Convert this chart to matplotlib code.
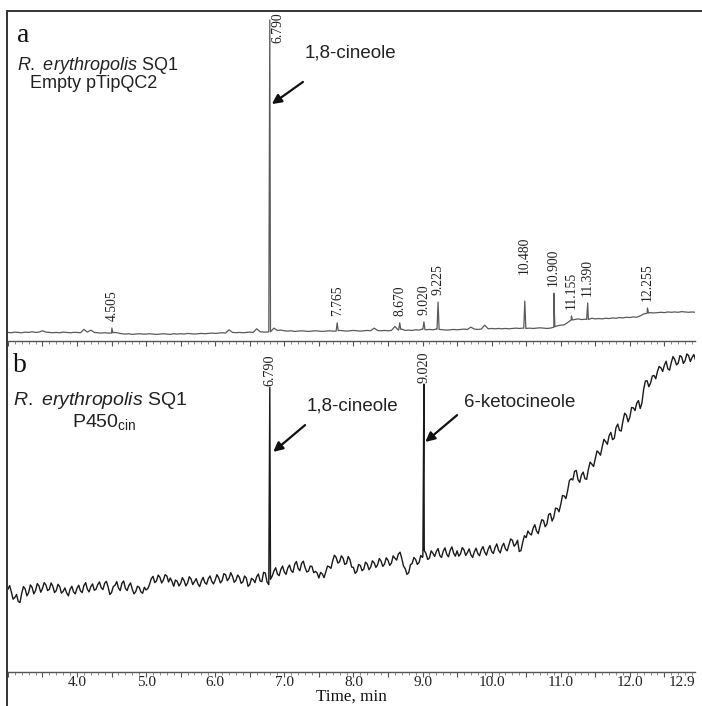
import numpy as np
import matplotlib
matplotlib.use("Agg")
import matplotlib.pyplot as plt
from matplotlib.patches import Rectangle
from matplotlib.ticker import MultipleLocator

plt.rcParams["mathtext.fontset"] = "custom"
plt.rcParams["mathtext.rm"] = "Liberation Sans"
plt.rcParams["mathtext.it"] = "Liberation Sans:italic"

# sampled traces, one point every 0.05 min from 3.00 to 12.95
t_grid = np.round(np.arange(3.0, 12.96, 0.05), 2)

top_trace = [
    2.6, 2.5, 2.7, 2.6, 2.5, 2.7, 2.6, 2.8, 2.6, 2.7,
    3.1, 2.7, 2.6, 2.5, 2.6, 2.5, 2.7, 2.6, 2.5, 2.6,
    2.6, 2.5, 3.5, 2.7, 3.3, 2.6, 2.5, 2.4, 2.5, 2.4,
    2.4, 2.6, 2.4, 2.2, 2.1, 2.2, 2.0, 2.1, 2.2, 2.1,
    2.1, 2.2, 2.1, 2.0, 2.1, 2.2, 2.1, 2.0, 2.2, 2.1,
    2.2, 2.1, 2.3, 2.2, 2.1, 2.2, 2.3, 2.2, 2.3, 2.4,
    2.3, 2.4, 2.5, 2.4, 3.4, 2.6, 2.5, 2.6, 2.5, 2.6,
    2.7, 2.6, 3.7, 2.8, 2.7, 2.7, 2.8, 3.9, 3.2, 3.3,
    3.1, 3.0, 3.1, 2.9, 3.0, 3.1, 3.0, 2.9, 3.0, 3.1,
    3.0, 2.9, 3.0, 3.1, 3.0, 3.0, 3.2, 3.1, 3.0, 3.1,
    3.2, 3.1, 3.0, 3.1, 3.2, 3.1, 3.9, 3.2, 3.1, 3.2,
    3.1, 3.2, 4.4, 3.3, 3.6, 3.2, 3.3, 3.2, 3.4, 3.3,
    3.6, 3.4, 3.5, 3.4, 3.6, 3.5, 3.4, 3.3, 3.4, 3.5,
    3.4, 3.5, 3.6, 3.5, 4.2, 3.6, 3.5, 3.6, 4.8, 3.7,
    3.8, 3.7, 3.8, 3.7, 3.8, 3.7, 3.8, 3.9, 3.8, 3.9,
    3.8, 3.9, 3.8, 3.9, 4.0, 3.9, 3.8, 3.9, 4.2, 4.6,
    4.8, 4.9, 5.6, 6.3, 6.5, 6.7, 6.5, 6.6, 6.5, 6.9,
    6.7, 6.8, 6.7, 6.9, 6.8, 7.0, 6.9, 7.1, 7.0, 7.2,
    7.1, 7.3, 7.2, 7.6, 8.2, 8.4, 8.6, 8.5, 8.6, 8.7,
    8.6, 8.8, 8.7, 8.8, 8.7, 8.9, 8.8, 8.7, 8.8, 8.7,
]

bottom_trace = [
    25.0, 24.2, 22.5, 21.3, 23.8, 25.1, 24.0, 25.6, 24.6, 26.0,
    25.2, 26.3, 25.0, 25.9, 24.6, 25.8, 24.4, 23.9, 25.0, 24.2,
    25.3, 24.5, 26.1, 25.0, 25.8, 24.7, 26.4, 25.5, 26.8, 25.7,
    24.0, 26.2, 25.4, 26.8, 25.3, 26.1, 25.0, 24.3, 25.6, 23.8,
    24.8, 26.5, 28.9, 27.5, 28.6, 27.8, 29.0, 28.4, 25.9, 27.4,
    26.8, 27.6, 26.9, 28.1, 27.3, 26.6, 27.5, 27.0, 28.2, 27.4,
    27.8, 28.5, 27.6, 29.4, 28.3, 28.9, 27.7, 28.6, 27.2, 28.4,
    26.4, 27.9, 28.8, 27.5, 30.1, 27.2, 28.0, 30.5, 29.6, 31.0,
    30.2, 31.4, 30.6, 32.5, 31.3, 32.8, 31.6, 30.5, 31.9, 30.4,
    28.4, 29.6, 30.2, 31.8, 33.6, 34.6, 33.3, 34.4, 32.8, 33.9,
    31.6, 30.4, 32.2, 31.1, 32.6, 31.7, 33.0, 32.4, 33.5, 32.6,
    33.8, 32.9, 34.4, 35.6, 34.3, 31.2, 30.0, 32.8, 34.0, 33.1,
    34.6, 35.8, 34.4, 35.9, 36.4, 35.2, 36.5, 35.6, 36.8, 35.9,
    36.6, 35.7, 36.9, 36.1, 35.4, 36.3, 35.8, 36.9, 36.2, 37.1,
    36.4, 37.6, 36.8, 37.9, 37.2, 38.4, 39.8, 38.6, 36.4, 39.2,
    40.6, 41.8, 43.4, 42.6, 44.1, 45.8, 44.7, 47.9, 46.8, 49.4,
    50.6, 53.2, 54.8, 58.4, 60.6, 58.1, 59.5, 58.4, 61.2, 62.8,
    64.5, 66.3, 68.0, 69.6, 71.4, 70.2, 73.8, 73.0, 75.8, 77.6,
    77.0, 79.8, 81.2, 79.6, 85.4, 88.0, 87.3, 89.6, 90.8, 91.9,
    92.7, 91.6, 93.5, 94.4, 93.3, 95.2, 94.1, 95.6, 95.0, 94.3,
]

# bottom trace readings half way between the samples above (3.025 ... 12.925 min)
bottom_trace_mid = [
    26.1, 22.0, 23.4, 21.0, 25.8, 23.0, 26.3, 23.6, 26.7, 24.1,
    27.0, 24.6, 26.9, 24.0, 26.5, 23.8, 25.4, 23.0, 25.9, 23.6,
    26.2, 24.0, 27.0, 24.2, 26.6, 25.0, 27.2, 24.9, 27.4, 23.4,
    25.8, 27.3, 24.6, 27.5, 24.6, 26.9, 23.6, 25.9, 24.2, 25.6,
    25.2, 28.2, 27.0, 29.3, 26.9, 29.4, 27.2, 27.3, 27.8, 26.0,
    28.5, 26.0, 28.8, 26.4, 28.2, 25.8, 28.6, 26.5, 29.0, 26.6,
    29.4, 26.9, 29.7, 27.6, 30.0, 27.1, 29.3, 26.8, 29.0, 25.9,
    28.3, 27.0, 29.6, 27.3, 29.9, 26.4, 29.0, 31.5, 29.1, 32.0,
    29.5, 32.3, 30.1, 33.4, 30.6, 33.5, 30.2, 32.0, 30.0, 29.9,
    30.1, 28.5, 32.0, 31.3, 35.3, 32.9, 35.1, 32.5, 34.9, 31.7,
    29.8, 32.5, 30.6, 33.2, 30.9, 33.6, 31.6, 34.3, 31.9, 34.5,
    32.2, 35.1, 33.8, 36.2, 32.0, 29.5, 32.4, 34.6, 32.5, 35.2,
    36.7, 34.0, 36.6, 34.9, 37.3, 34.6, 37.5, 34.8, 37.8, 35.0,
    35.0, 37.6, 35.2, 37.2, 34.6, 37.4, 35.1, 37.9, 35.3, 38.2,
    35.8, 38.7, 36.0, 38.9, 36.6, 40.2, 38.0, 39.8, 36.7, 41.2,
    42.6, 41.4, 44.5, 41.8, 46.0, 43.9, 47.6, 45.6, 49.5, 48.4,
    53.3, 52.4, 57.8, 58.0, 60.9, 57.3, 60.4, 58.2, 63.4, 62.1,
    66.8, 65.5, 70.3, 68.8, 72.4, 70.6, 74.9, 72.8, 78.2, 75.6,
    79.9, 79.0, 82.0, 81.3, 87.9, 86.2, 89.4, 88.6, 92.3, 90.8,
    93.9, 91.2, 95.3, 92.8, 95.6, 93.2, 96.1, 93.8, 95.9,
]

top_peak_times = [4.505, 6.790, 7.765, 8.670, 9.020, 9.225, 10.480, 10.900, 11.155, 11.390, 12.255]
top_peak_heights = [3.9, 97.3, 5.5, 5.5, 5.8, 11.8, 12.1, 14.5, 7.6, 11.5, 10.0]
top_peak_labels = ["4.505", "6.790", "7.765", "8.670", "9.020", "9.225",
                   "10.480", "10.900", "11.155", "11.390", "12.255"]

bottom_peak_times = [6.790, 9.020]
bottom_peak_heights = [86.0, 87.0]
bottom_peak_labels = ["6.790", "9.020"]

tick_label_values = [4.0, 5.0, 6.0, 7.0, 8.0, 9.0, 10.0, 11.0, 12.0]

serif = "Liberation Serif"
sans = "Liberation Sans"
W, H = 702, 706


def with_peaks(times, base, ptimes, pheights, half=0.015):
    times = np.asarray(times)
    base = np.asarray(base)
    t = list(times)
    y = list(base)
    for pt, ph in zip(ptimes, pheights):
        b0 = np.interp(pt - half, times, base)
        b1 = np.interp(pt + half, times, base)
        t += [pt - half, pt, pt + half]
        y += [b0, ph, b1]
    order = np.argsort(t, kind="stable")
    return np.array(t)[order], np.array(y)[order]


def fx(px):
    return px / W


def fy(py):
    return 1 - py / H


fig = plt.figure(figsize=(W / 100, H / 100), dpi=100)
ax1 = fig.add_axes([fx(7), fy(341), fx(688), 330 / H])
ax2 = fig.add_axes([fx(7), fy(672), fx(688), 331 / H])

for ax in (ax1, ax2):
    ax.set_xlim(2.987, 12.943)
    ax.set_ylim(0, 100)
    for s in ("left", "top", "right"):
        ax.spines[s].set_visible(False)
    ax.spines["bottom"].set_color("#555555")
    ax.spines["bottom"].set_linewidth(1.0)
    ax.xaxis.set_major_locator(MultipleLocator(0.5))
    ax.xaxis.set_minor_locator(MultipleLocator(0.1))
    ax.tick_params(axis="x", which="major", direction="out", length=3.5, width=0.8,
                   color="#555555", labelbottom=False)
    ax.tick_params(axis="x", which="minor", direction="out", length=2.0, width=0.6, color="#777777")
    ax.set_yticks([])
    ax.patch.set_alpha(0)

tt, yy = with_peaks(t_grid, top_trace, top_peak_times, top_peak_heights)
ax1.plot(tt, yy, color="#5a5a5a", lw=0.9)

# merge the half-step readings into the bottom trace
t_mid = np.round(t_grid[:-1] + 0.025, 3)
t_bot = np.concatenate([t_grid, t_mid])
y_bot = np.concatenate([bottom_trace, bottom_trace_mid])
order = np.argsort(t_bot)
tb, yb = with_peaks(t_bot[order], y_bot[order], bottom_peak_times, bottom_peak_heights)
ax2.plot(tb, yb, color="#1a1a1a", lw=1.0)

# peak labels, top panel
extra_gap = {"10.480": 6.0}
for pt, ph, lab in zip(top_peak_times, top_peak_heights, top_peak_labels):
    if lab == "6.790":
        ax1.text(6.90, 99.7, lab, rotation=90, ha="center", va="top",
                 fontsize=9.8, family=serif, color="#222222")
    else:
        ax1.text(pt, ph + 2.2 + extra_gap.get(lab, 0), lab, rotation=90, ha="center", va="bottom",
                 fontsize=9.8, family=serif, color="#222222")

for pt, ph, lab in zip(bottom_peak_times, bottom_peak_heights, bottom_peak_labels):
    ax2.text(pt, ph + 0.3, lab, rotation=90, ha="center", va="bottom",
             fontsize=10.2, family=serif, color="#222222")

# x tick labels under the bottom ruler
for v in tick_label_values:
    ax2.text(v, -1.2, f"{v:.1f}", ha="center", va="top", family=serif, fontsize=11, color="#222222")
ax2.text(12.943, -1.2, "12.9", ha="right", va="top", family=serif, fontsize=11, color="#222222")
fig.text(fx(351), fy(701), "Time, min", ha="center", va="baseline", family=serif, fontsize=12.3, color="#111111")

# panel annotations
fig.text(fx(17), fy(42), "a", family=serif, fontsize=20, color="#111111")
fig.text(fx(13), fy(372), "b", family=serif, fontsize=20, color="#111111")
fig.text(fx(17), fy(70), "$\\mathit{R.}$ $\\mathit{erythropolis}$ SQ1", family=sans, fontsize=13, color="#222222")
fig.text(fx(30), fy(88), "Empty pTipQC2", family=sans, fontsize=13, color="#222222")
fig.text(fx(13), fy(405), "$\\mathit{R.}$ $\\mathit{erythropolis}$ SQ1", family=sans, fontsize=14, color="#222222")
fig.text(fx(72), fy(427), "P450$_{\\mathregular{cin}}$", family=sans, fontsize=14, color="#222222")

arrow = dict(arrowstyle="-|>", color="#111111", lw=1.6, mutation_scale=14, shrinkA=0, shrinkB=0)
ax1.annotate("", xy=(6.82, 71.8), xytext=(7.27, 78.5), arrowprops=arrow)
ax1.text(7.30, 87.3, "1,8-cineole", family=sans, fontsize=13.5, va="center", color="#222222")
ax2.annotate("", xy=(6.84, 66.5), xytext=(7.30, 74.6), arrowprops=arrow)
ax2.text(7.32, 80.4, "1,8-cineole", family=sans, fontsize=13.5, va="center", color="#222222")
ax2.annotate("", xy=(9.04, 69.5), xytext=(9.50, 77.6), arrowprops=arrow)
ax2.text(9.60, 81.3, "6-ketocineole", family=sans, fontsize=13.5, va="center", color="#222222")

# outer frame, open to the right and bottom edges
fig.add_artist(Rectangle((fx(7), -0.02), 1.0, fy(11) + 0.02, transform=fig.transFigure,
                         fill=False, edgecolor="#333333", lw=1.4))

fig.savefig("out.png", dpi=100)
